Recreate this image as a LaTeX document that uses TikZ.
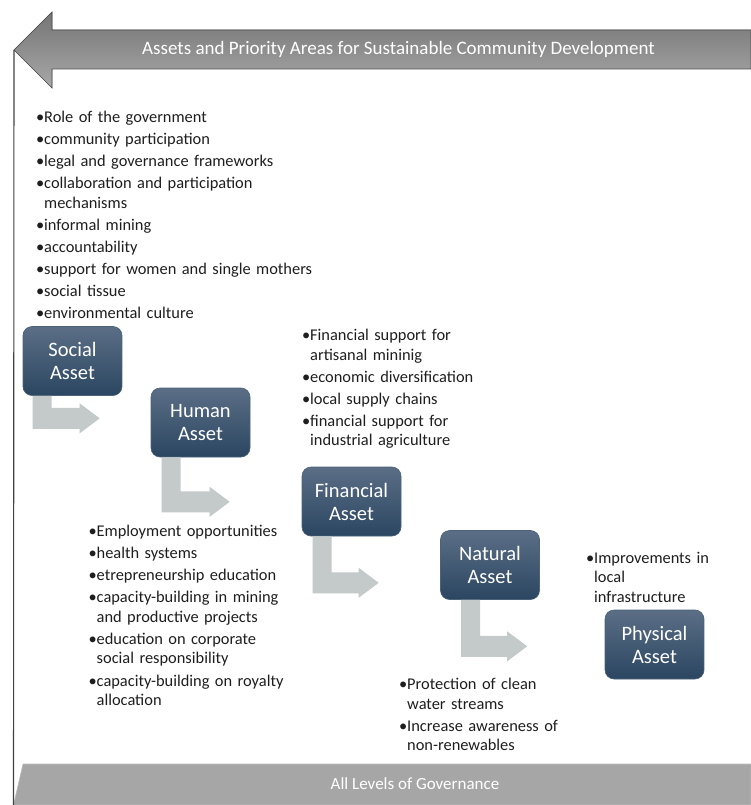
\documentclass[tikz,border=0pt]{standalone}
\usepackage{fontspec}
\setmainfont{Carlito}
\usetikzlibrary{calc}
\definecolor{boxtop}{HTML}{5B6E86}
\definecolor{boxbot}{HTML}{2B4661}
\definecolor{elbowc}{HTML}{C4CACA}
\definecolor{txt}{HTML}{1E1E1E}
\definecolor{arrtop}{HTML}{757575}
\definecolor{arrbot}{HTML}{A8A8A8}
\definecolor{govc}{HTML}{A6A6A6}
\tikzset{
  x=1pt, y=-1pt,
  asset/.style={rounded corners=9pt, top color=boxtop, bottom color=boxbot,
    draw=boxbot!85!white, line width=0.6pt, minimum width=99pt, minimum height=69pt,
    text=white, font=\fontsize{20.5}{23}\selectfont, align=center, inner sep=0pt},
  plist/.style={anchor=north west, inner sep=0pt, text width=#1, align=left, text=txt,
    font=\fontsize{16.4}{19.5}\selectfont\setlength\parskip{2.6pt}},
  elbowfill/.style={fill=elbowc},
  titlearrow/.style={top color=arrtop, bottom color=arrbot, draw=black!70, line width=0.7pt},
  govbar/.style={fill=govc, draw=black!25, line width=0.6pt},
  bandtext/.style={text=white, inner sep=0pt},
  leftline/.style={draw=black!75, line width=1.1pt},
}
\newcommand\bul[1]{\hangindent=7pt\hangafter=1\noindent\makebox[7pt][l]{\hspace{-1pt}•}#1\par}
% #1 box, #2 x offset of bar, #3 bar length down, #4 distance from bar left to head base
\newcommand\elbowarr[4]{%
  \fill[elbowfill] ([xshift=#2pt]#1.south west) -- ++(19,0) -- ++(0,#3-21)
    -- ++(#4-19,0) -- ++(0,-4.5) -- ++(20,15) -- ++(-20,15) -- ++(0,-4.5)
    -- ++(-#4,0) -- cycle;}
\begin{document}
\begin{tikzpicture}
\useasboundingbox (0,0) rectangle (751,805);
% top band arrow
\coordinate (tip) at (14,50);
\filldraw[titlearrow] (tip) -- (52,12) -- (52,30) -- (751,30) -- (751,69) -- (52,69) -- (52,88) -- cycle;
\node[bandtext, font=\fontsize{19}{22}\selectfont] (title) at (398.5,49.5) {Assets and Priority Areas for Sustainable Community Development};
% bottom band
\coordinate (bl) at (13.5,805);
\filldraw[govbar] (bl) -- (23,764) -- (751,764) -- (751,805) -- cycle;
\node[bandtext, font=\fontsize{17}{20}\selectfont] (gov) at (415,784) {All Levels of Governance};
\draw[leftline] (tip) -- (bl);
% asset boxes
\node[asset] (social) at (72.5,361) {Social\\Asset};
\node[asset] (human) at (200.5,422.5) {Human\\Asset};
\node[asset] (financial) at (351.5,501.5) {Financial\\Asset};
\node[asset] (natural) at (490,565) {Natural\\Asset};
\node[asset] (physical) at (654.5,644.5) {Physical\\Asset};
% elbow arrows
\elbowarr{social}{10}{33}{47}
\elbowarr{human}{11}{55}{48}
\elbowarr{financial}{11}{57}{46}
\elbowarr{natural}{21}{57}{46}
% lists
\node[plist=320pt] (soclist) at (37,111) {%
\bul{Role of the government}
\bul{community participation}
\bul{legal and governance frameworks}
\bul{collaboration and participation\newline mechanisms}
\bul{informal mining}
\bul{accountability}
\bul{support for women and single mothers}
\bul{social tissue}
\bul{environmental culture}};
\node[plist=250pt] (humlist) at (89.5,525) {%
\bul{Employment opportunities}
\bul{health systems}
\bul{etrepreneurship education}
\bul{capacity-building in mining\newline and productive projects}
\bul{education on corporate\newline social responsibility}
\bul{capacity-building on royalty\newline allocation}};
\node[plist=250pt] (finlist) at (303,329) {%
\bul{Financial support for\newline artisanal mininig}
\bul{economic diversification}
\bul{local supply chains}
\bul{financial support for\newline industrial agriculture}};
\node[plist=250pt] (natlist) at (400,678) {%
\bul{Protection of clean\newline water streams}
\bul{Increase awareness of\newline non-renewables}};
\node[plist=200pt] (phylist) at (587,552) {%
\bul{Improvements in\newline local\newline infrastructure}};
\end{tikzpicture}
\end{document}
